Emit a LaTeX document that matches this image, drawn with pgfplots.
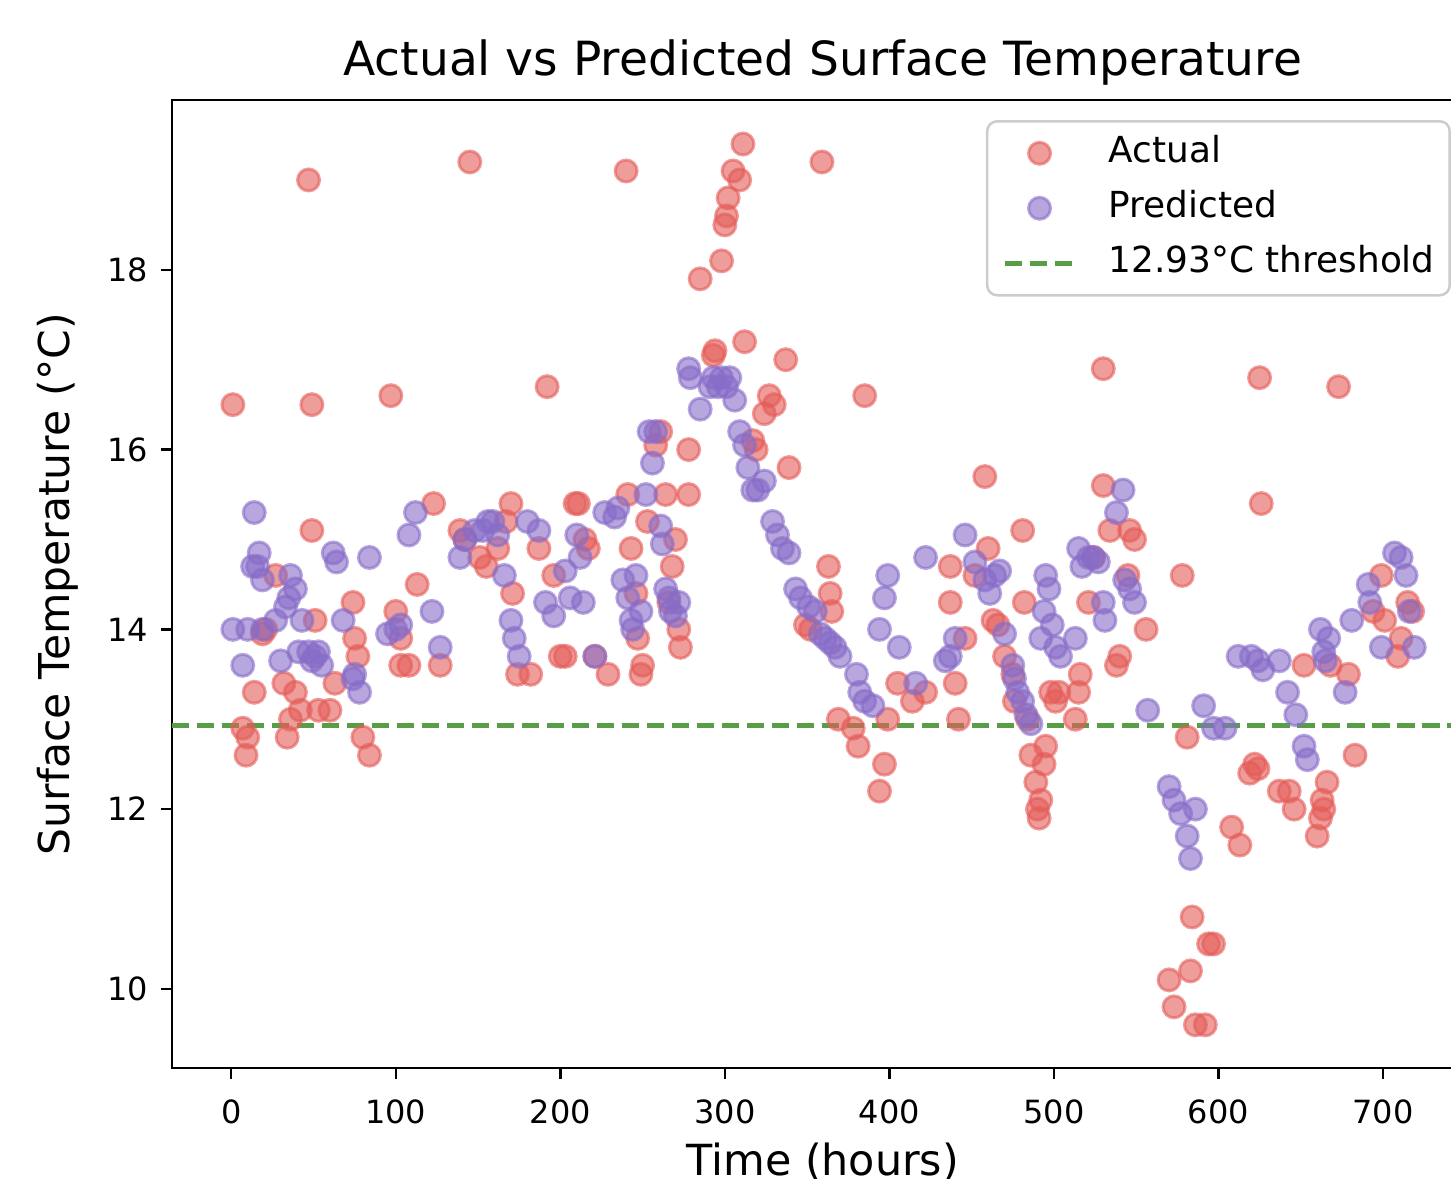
\documentclass[border=0pt]{standalone}
\usepackage{fontspec}
\setmainfont{DejaVu Sans}
\usepackage{pgfplots}
\usepackage{pgfplotstable}
\pgfplotsset{compat=1.18}

\definecolor{actc}{RGB}{228,92,88}
\definecolor{predc}{RGB}{135,108,200}
\definecolor{thrc}{RGB}{88,158,70}

% actual surface temperature
\pgfplotstableread{
x y
1 16.5
7 12.9
9 12.6
10 12.8
14 13.3
19 13.95
21 14.0
27 14.6
32 13.4
34 12.8
36 13.0
39 13.3
42 13.1
47 19.0
49 16.5
49 15.1
51 14.1
53 13.1
60 13.1
63 13.4
74 14.3
75 13.9
77 13.7
80 12.8
84 12.6
97 16.6
100 14.2
103 13.9
103 13.6
108 13.6
113 14.5
123 15.4
127 13.6
139 15.1
142 15.0
145 19.2
151 14.8
155 14.7
162 14.9
167 15.2
170 15.4
171 14.4
174 13.5
182 13.5
187 14.9
192 16.7
196 14.6
200 13.7
203 13.7
209 15.4
211 15.4
215 15.0
217 14.9
221 13.7
229 13.5
240 19.1
241 15.5
243 14.9
246 14.4
247 13.9
249 13.5
250 13.6
253 15.2
258 16.05
261 16.2
264 15.5
266 14.3
268 14.7
270 15.0
272 14.0
273 13.8
278 16.0
278 15.5
285 17.9
293 17.05
294 17.1
298 18.1
300 18.5
301 18.6
302 18.8
305 19.1
309 19.0
311 19.4
312 17.2
317 16.1
319 16.0
324 16.4
327 16.6
330 16.5
337 17.0
339 15.8
349 14.05
352 14.0
359 19.2
363 14.7
364 14.4
365 14.2
369 13.0
378 12.9
381 12.7
385 16.6
394 12.2
397 12.5
399 13.0
405 13.4
414 13.2
422 13.3
437 14.7
437 14.3
440 13.4
442 13.0
446 13.9
452 14.6
458 15.7
460 14.9
463 14.1
466 14.05
470 13.7
475 13.5
476 13.2
481 15.1
482 14.3
484 13.0
486 12.6
489 12.3
490 12.0
491 11.9
492 12.1
494 12.5
495 12.7
498 13.3
501 13.2
503 13.3
513 13.0
515 13.3
516 13.5
521 14.3
524 14.8
530 16.9
530 15.6
534 15.1
538 13.6
540 13.7
545 14.6
546 15.1
549 15.0
556 14.0
578 14.6
581 12.8
570 10.1
573 9.8
583 10.2
584 10.8
586 9.6
592 9.6
594 10.5
597 10.5
608 11.8
613 11.6
619 12.4
622 12.5
624 12.45
625 16.8
626 15.4
637 12.2
643 12.2
646 12.0
652 13.6
660 11.7
662 11.9
663 12.1
664 12.0
666 12.3
668 13.6
673 16.7
679 13.5
683 12.6
694 14.2
699 14.6
701 14.1
709 13.7
711 13.9
715 14.3
718 14.2
}\actual

% predicted surface temperature
\pgfplotstableread{
x y
1 14.0
7 13.6
10 14.0
13 14.7
14 15.3
16 14.7
17 14.85
19 14.55
19 14.0
27 14.1
30 13.65
33 14.25
35 14.35
36 14.6
39 14.45
41 13.75
43 14.1
47 13.75
49 13.65
51 13.7
53 13.75
55 13.6
62 14.85
64 14.75
68 14.1
74 13.45
75 13.5
78 13.3
84 14.8
95 13.95
100 14.0
103 14.05
108 15.05
112 15.3
122 14.2
127 13.8
139 14.8
142 15.0
148 15.1
153 15.1
156 15.2
159 15.2
162 15.05
166 14.6
170 14.1
172 13.9
175 13.7
180 15.2
187 15.1
191 14.3
196 14.15
203 14.65
206 14.35
210 15.05
212 14.8
214 14.3
221 13.7
227 15.3
233 15.25
235 15.35
238 14.55
241 14.35
243 14.1
244 14.0
246 14.6
249 14.2
252 15.5
254 16.2
256 15.85
258 16.2
261 15.15
262 14.95
264 14.45
266 14.35
267 14.2
270 14.15
272 14.3
278 16.9
279 16.8
285 16.45
291 16.7
293 16.8
296 16.7
298 16.8
301 16.7
303 16.8
306 16.55
309 16.2
312 16.05
314 15.8
317 15.55
320 15.55
324 15.65
329 15.2
332 15.05
335 14.9
339 14.85
343 14.45
346 14.35
351 14.25
355 14.2
358 13.95
361 13.9
364 13.85
367 13.8
370 13.7
380 13.5
382 13.3
385 13.2
390 13.15
394 14.0
397 14.35
399 14.6
406 13.8
416 13.4
422 14.8
434 13.65
437 13.7
440 13.9
446 15.05
452 14.75
458 14.55
461 14.4
464 14.6
467 14.65
470 13.95
475 13.6
476 13.45
478 13.3
481 13.2
483 13.05
486 12.95
492 13.9
494 14.2
495 14.6
497 14.45
499 14.05
501 13.8
504 13.7
513 13.9
515 14.9
517 14.7
521 14.8
524 14.8
527 14.75
530 14.3
531 14.1
538 15.3
542 15.55
543 14.55
546 14.45
549 14.3
557 13.1
570 12.25
573 12.1
577 11.95
581 11.7
583 11.45
586 12.0
591 13.15
597 12.9
604 12.9
612 13.7
620 13.7
624 13.65
627 13.55
637 13.65
642 13.3
647 13.05
652 12.7
654 12.55
662 14.0
664 13.75
665 13.65
667 13.9
677 13.3
681 14.1
691 14.5
692 14.3
699 13.8
707 14.85
711 14.8
714 14.6
716 14.2
719 13.8
}\predicted

\begin{document}
\begin{tikzpicture}
\useasboundingbox (0,0) rectangle (145.1mm,117.9mm);
\begin{axis}[
    at={(17.2mm,11.1mm)}, anchor=south west,
    scale only axis,
    width=130.15mm, height=96.8mm,
    xmin=-36, xmax=755, ymin=9.12, ymax=19.89,
    xtick={0,100,...,700}, ytick={10,12,...,18},
    tick pos=left, tick align=outside,
    major tick length=1.1mm,
    every tick/.style={black, line width=0.25mm},
    axis line style={line width=0.25mm},
    /pgf/number format/assume math mode=true,
    ticklabel style={font=\fontsize{9.1}{11}\selectfont, inner sep=0pt},
    xticklabel style={anchor=north, yshift=-2.0mm},
    yticklabel style={anchor=east, xshift=-1.2mm},
    title={Actual vs Predicted Surface Temperature},
    title style={font=\fontsize{13.4}{15}\selectfont, at={(axis description cs:0.5,1.003)}, anchor=base},
    xlabel={Time (hours)},
    xlabel style={font=\fontsize{12.2}{14}\selectfont, at={(axis description cs:0.5,-0.111)}, anchor=base},
    ylabel={Surface Temperature (°C)},
    ylabel style={font=\fontsize{12.1}{14}\selectfont, at={(axis description cs:-0.0791,0.5)}, anchor=base},
    legend style={at={(axis description cs:0.9827,0.9793)}, anchor=north east,
        draw=black!20, line width=0.25mm, rounded corners=1mm, fill=white,
        font=\fontsize{10.2}{12}\selectfont,
        inner xsep=1.5mm, inner ysep=1.5mm, row sep=2.1mm,
        nodes={inner sep=0pt, text height=2.6mm, text depth=0.8mm},
        /tikz/every odd column/.append style={column sep=3.2mm}},
    legend cell align=left,
]
\addplot[only marks, mark=*, mark size=1.1mm,
    mark options={fill=actc, draw=actc, opacity=0.6, line width=0.3mm},
    legend image code/.code={\draw[mark repeat=2,mark phase=2] plot coordinates {(0mm,0mm) (3.5mm,0mm) (7mm,0mm)};}]
    table {\actual};
\addplot[only marks, mark=*, mark size=1.1mm,
    mark options={fill=predc, draw=predc, opacity=0.6, line width=0.3mm},
    legend image code/.code={\draw[mark repeat=2,mark phase=2] plot coordinates {(0mm,0mm) (3.5mm,0mm) (7mm,0mm)};}]
    table {\predicted};
\addplot[thrc, line width=0.47mm, dash pattern=on 1.75mm off 0.75mm,
    legend image code/.code={\draw (0mm,0mm) -- (7mm,0mm);}]
    coordinates {(-36,12.93) (755,12.93)};
\legend{Actual, Predicted, 12.93°C threshold}
\end{axis}
\end{tikzpicture}
\end{document}
